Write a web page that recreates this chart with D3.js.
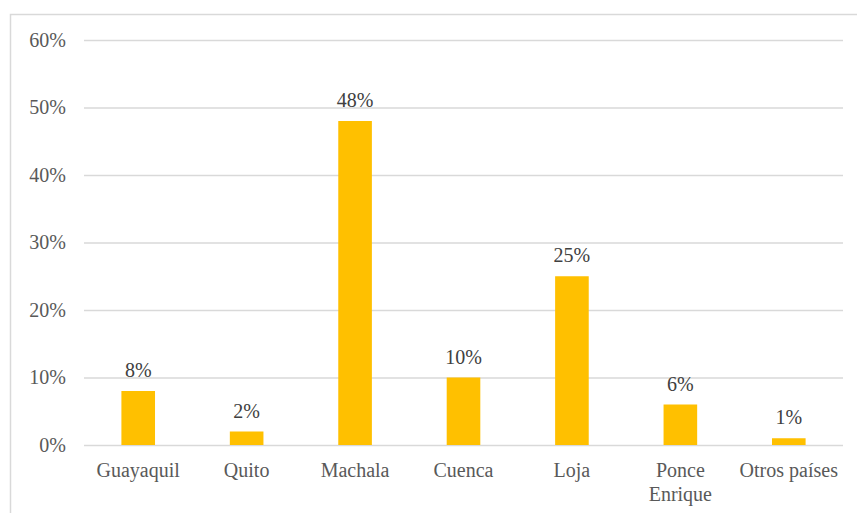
<!DOCTYPE html>
<html><head><meta charset="utf-8">
<script src="https://cdn.jsdelivr.net/npm/d3@7"></script>
<style>body{margin:0;background:#fff}svg{display:block}
svg text{font-family:"Liberation Serif","Times New Roman","DejaVu Serif",serif;font-size:20px}</style>
</head><body>
<script>
const categories = ["Guayaquil","Quito","Machala","Cuenca","Loja","Ponce Enrique","Otros países"];
const values = [0.08,0.02,0.48,0.10,0.25,0.06,0.01];
const yTicks = [0,0.1,0.2,0.3,0.4,0.5,0.6];

const W=857,H=513;
const svg=d3.select("body").append("svg").attr("width",W).attr("height",H);
svg.append("rect").attr("x",10.5).attr("y",14.5).attr("width",W).attr("height",H)
  .attr("fill","none").attr("stroke","#d9d9d9").attr("stroke-width",1.5);

const x=d3.scaleBand().domain(categories).range([84,843]).paddingInner(0.69).paddingOuter(0.345);
const y=d3.scaleLinear().domain([0,0.6]).range([445,40]);

const ya=svg.append("g").attr("transform","translate(84,0)")
  .call(d3.axisLeft(y).tickValues(yTicks).tickFormat(d3.format(".0%")).tickSize(-759).tickPadding(18));
ya.attr("font-family",null).attr("font-size",null);
ya.select(".domain").remove();
ya.selectAll(".tick line").attr("stroke","#d9d9d9").attr("stroke-width",1.5);
ya.selectAll(".tick text").attr("fill","#595959");

svg.append("g").selectAll("rect").data(values).join("rect")
  .attr("x",(d,i)=>x(categories[i])).attr("width",x.bandwidth())
  .attr("y",d=>y(d)).attr("height",d=>y(0)-y(d)).attr("fill","#ffc000");

svg.append("g").selectAll("text").data(values).join("text")
  .attr("x",(d,i)=>x(categories[i])+x.bandwidth()/2).attr("y",d=>y(d)-14)
  .attr("text-anchor","middle").attr("fill","#404040").text(d3.format(".0%"));

const xa=svg.append("g");
categories.forEach(c=>{
  const t=xa.append("text").attr("x",x(c)+x.bandwidth()/2).attr("y",477)
    .attr("text-anchor","middle").attr("fill","#595959");
  const parts = c==="Ponce Enrique" ? ["Ponce","Enrique"] : [c];
  parts.forEach((p,i)=>t.append("tspan").attr("x",x(c)+x.bandwidth()/2).attr("dy",i?24:0).text(p));
});
</script>
</body></html>
